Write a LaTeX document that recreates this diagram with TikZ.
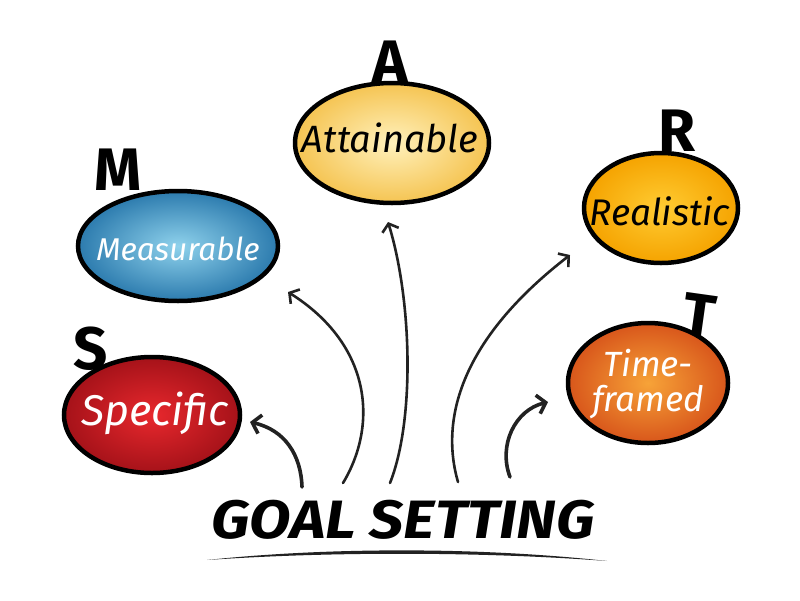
\documentclass[tikz,border=0pt]{standalone}
\usepackage{fontspec}
\setmainfont{Fira Sans}
\usetikzlibrary{shapes.geometric,arrows.meta}
\definecolor{bluein}{HTML}{8FD2EC}
\definecolor{blueout}{HTML}{2C7BAE}
\definecolor{yelin}{HTML}{FFF1BC}
\definecolor{yelout}{HTML}{F5C452}
\definecolor{ambin}{HTML}{FFCC33}
\definecolor{ambout}{HTML}{F5A300}
\definecolor{redin}{HTML}{E8282D}
\definecolor{redout}{HTML}{A51219}
\definecolor{orin}{HTML}{F7A338}
\definecolor{orout}{HTML}{D8561B}
\definecolor{ink}{HTML}{222222}
\begin{document}
\begin{tikzpicture}[x=1pt,y=-1pt,
  bubble/.style={ellipse, draw=black, line width=4.5pt, inner sep=0pt},
  word/.style={font=\itshape\fontsize{#1}{#1}\selectfont, inner sep=0pt},
  initial/.style={font=\bfseries\fontsize{60}{60}\selectfont, inner sep=0pt, text=black},
  arr/.style={draw=ink, line width=2.6pt, line cap=round,
    -{Straight Barb[length=7pt,width=17pt]}},
  arrthick/.style={arr, line width=3.6pt, -{Straight Barb[length=8pt,width=19pt]}}]
\useasboundingbox (0,0) rectangle (800,600);

% initials (behind bubbles)
\node[initial] (lm) at (118,170) {M};
\node[initial] (la) at (390,62) {A};
\node[initial] (lr) at (677,131) {R};
\node[initial] (ls) at (91,349) {S};
\node[initial, rotate=-8] (lt) at (699,315) {T};

% bubbles
\node[bubble, minimum width=200pt, minimum height=110pt, inner color=bluein, outer color=blueout] (meas) at (178,246) {};
\node[bubble, minimum width=194pt, minimum height=120pt, inner color=yelin, outer color=yelout] (att) at (392,143) {};
\node[bubble, minimum width=154pt, minimum height=110pt, inner color=ambin, outer color=ambout] (real) at (661,208) {};
\node[bubble, minimum width=176pt, minimum height=116pt, inner color=redin, outer color=redout] (spec) at (152,415) {};
\node[bubble, minimum width=160pt, minimum height=120pt, inner color=orin, outer color=orout] (time) at (648,383) {};

% bubble words
\node[word=31.5, text=white] (tmeas) at (178,249) {Measurable};
\node[word=38, text=black] (tatt) at (390,138) {Attainable};
\node[word=37, text=black] (treal) at (660,211) {Realistic};
\node[word=43, text=white] (tspec) at (155,413) {Specific};
\node[word=35, text=white, align=center, font=\itshape\fontsize{35}{35}\selectfont] (ttime) at (648,384) {Time-\\framed};

% title
\node[font=\bfseries\itshape\fontsize{54}{54}\selectfont, inner sep=0pt, xscale=1.12] (goal) at (403,520) {GOAL SETTING};
\fill[ink] (207,560) .. controls (330,547) and (480,547) .. (607,561)
  .. controls (480,551.5) and (330,551.5) .. (207,560) -- cycle;

% arrow anchors
\coordinate (s1) at (302,487); \coordinate (e1) at (250,422);
\coordinate (s2) at (343,483); \coordinate (e2) at (288,292);
\coordinate (s3) at (390,483); \coordinate (e3) at (388,222);
\coordinate (s4) at (458,482); \coordinate (e4) at (570,255);
\coordinate (s5) at (510,477); \coordinate (e5) at (548,402);

\draw[arrthick] (s1) .. controls (301,455) and (285,430) .. (e1);
\draw[arr] (s2) .. controls (378,425) and (372,345) .. (e2);
\draw[arr] (s3) .. controls (415,420) and (412,300) .. (e3);
\draw[arr] (s4) .. controls (440,420) and (460,340) .. (e4);
\draw[arrthick] (s5) .. controls (498,445) and (515,410) .. (e5);
\end{tikzpicture}
\end{document}
